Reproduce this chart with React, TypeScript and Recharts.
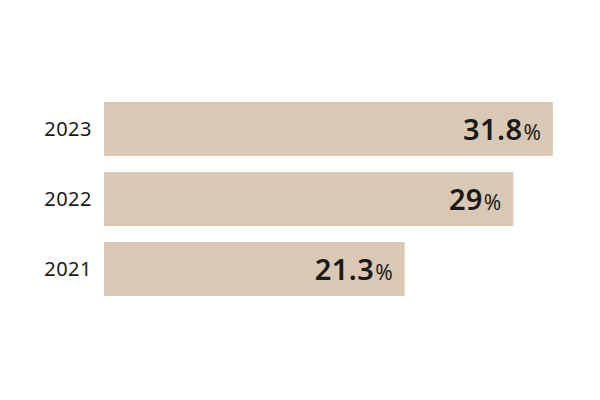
import React from 'react';
import { BarChart, Bar, XAxis, YAxis, LabelList } from 'recharts';

const years = ['2023', '2022', '2021'];
const shares = [31.8, 29, 21.3];

const data = years.map((year, i) => ({ year, value: shares[i] }));

const FONT = '"Noto Sans", "DejaVu Sans", sans-serif';

const ValueLabel = (props: any) => {
  const { x, y, width, height, value } = props;
  return (
    <text
      x={x + width - 12}
      y={y + height / 2 + 11}
      textAnchor="end"
      fill="#1a1a1a"
      fontFamily={FONT}
    >
      <tspan fontSize={29} fontWeight={600} letterSpacing={0.4}>{value}</tspan>
      <tspan fontSize={21} fontWeight={400} dx={1}>%</tspan>
    </text>
  );
};

const App = () => {
  return (
    <div style={{ width: 600, height: 400, background: '#fff' }}>
      <BarChart
        width={600}
        height={400}
        data={data}
        layout="vertical"
        margin={{ top: 86, right: 10, bottom: 104, left: 0 }}
        barSize={54}
      >
        <XAxis type="number" domain={[0, 35]} hide />
        <YAxis
          type="category"
          dataKey="year"
          width={96}
          axisLine={false}
          tickLine={false}
          tickSize={0}
          tickMargin={12}
          tick={{ fill: '#1a1a1a', fontSize: 20, fontFamily: FONT, letterSpacing: 0.5 }}
        />
        <Bar dataKey="value" fill="#d9c8b4" isAnimationActive={false}>
          <LabelList dataKey="value" content={ValueLabel} />
        </Bar>
      </BarChart>
    </div>
  );
};

export default App;
